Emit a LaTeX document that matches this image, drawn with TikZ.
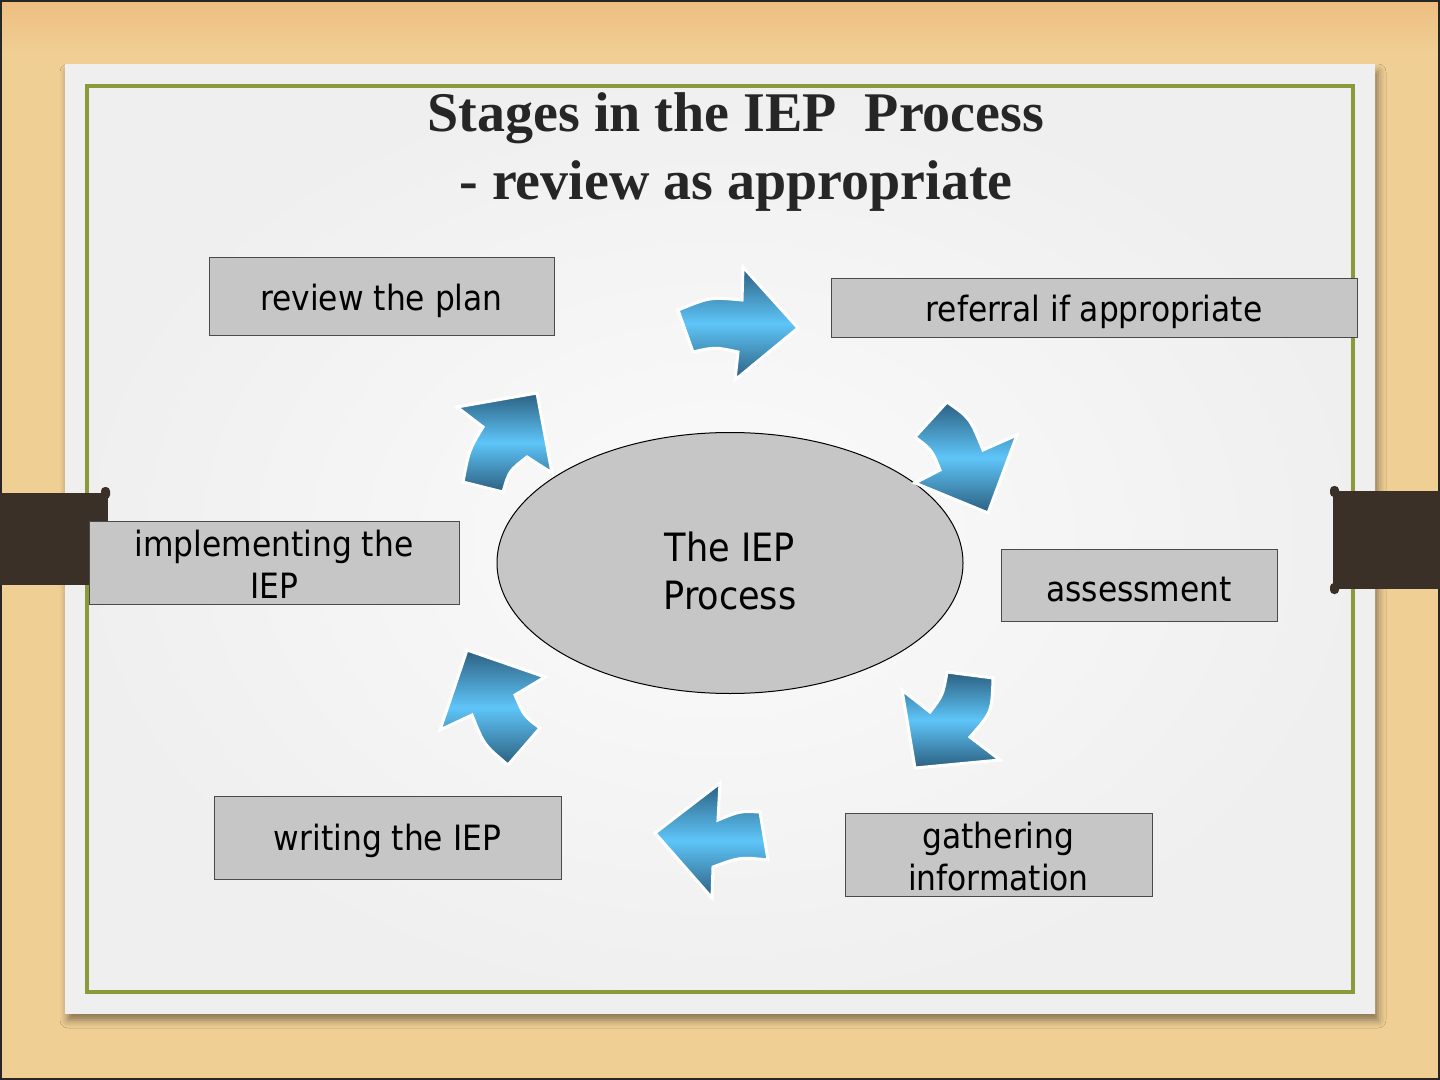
\documentclass[tikz,border=0pt]{standalone}
\usepackage{fontspec}
\setmainfont{Liberation Serif}
\newfontfamily\stagefont{DejaVu Sans Condensed}
\usetikzlibrary{shapes.geometric,shadows.blur}

\definecolor{wood}{HTML}{F0CF95}
\definecolor{woodtop}{HTML}{EEBD80}
\definecolor{strap}{HTML}{3B3028}
\definecolor{frameline}{HTML}{8A9A3B}
\definecolor{boxfill}{HTML}{C6C6C6}
\definecolor{boxline}{HTML}{4A4A4A}
\definecolor{arrdark}{HTML}{2C5F80}
\definecolor{arrlight}{HTML}{5EC5F8}
\definecolor{titleink}{HTML}{262626}
\definecolor{paper}{HTML}{EFEFEF}
\definecolor{papermid}{HTML}{FBFBFB}

\tikzset{
  stage/.style={draw=boxline, line width=0.5pt, fill=boxfill,
    font=\stagefont\fontsize{17.4}{21}\selectfont, text=black,
    align=center, inner sep=0pt},
  hub/.style={ellipse, draw=black, line width=0.5pt, fill=boxfill,
    font=\stagefont\fontsize{19.5}{24}\selectfont, text=black,
    align=center, inner sep=0pt},
  titleline/.style={font=\bfseries\fontsize{28}{34}\selectfont,
    text=titleink, anchor=base},
  cyclearrow/.style={top color=arrdark, bottom color=arrdark,
    middle color=arrlight, draw=white, line width=1.5pt, line join=miter},
}

\begin{document}
\begin{tikzpicture}[x=0.5pt,y=-0.5pt]
\useasboundingbox (0,0) rectangle (1440,1080);

% wooden backdrop
\fill[wood] (0,0) rectangle (1440,1080);
\shade[top color=woodtop, bottom color=wood] (0,0) rectangle (1440,55);
\draw[black!85, line width=1pt] (1,1) rectangle (1439,1079);

% paper sheet with its shadow
\path[fill=paper, blur shadow={shadow xshift=1.5pt, shadow yshift=-3.5pt,
      shadow blur radius=4pt, shadow opacity=45}]
  (65,65) rectangle (1375,1013);
\shade[inner color=papermid, outer color=paper] (65,65) rectangle (1375,1013);
\draw[frameline, line width=1.6pt] (87,86) rectangle (1353,992);

% straps holding the sheet
\fill[strap] (0,493) rectangle (108,585);
\fill[strap, rounded corners=2pt] (101,487) rectangle (110,499);
\fill[strap] (1333,491) rectangle (1440,589);
\fill[strap, rounded corners=2pt] (1330,486) rectangle (1339,497);
\fill[strap, rounded corners=2pt] (1330,583) rectangle (1339,594);

% title
\node[titleline] (title1) at (736,132) {Stages in the IEP\ \ Process};
\node[titleline] (title2) at (736,200) {- review as appropriate};

% centre
\node[hub, minimum width=233pt, minimum height=130.5pt] (hub) at (730,563)
  {\rule{0pt}{22.8pt}The IEP\\Process};

% stages
\node[stage, minimum width=172.5pt, minimum height=39pt] (review) at (381.5,297)
  {\rule{0pt}{17pt}review the plan};
\node[stage, minimum width=263pt, minimum height=29.5pt] (referral) at (1094,308.5)
  {\rule{0pt}{17pt}referral if appropriate};
\node[stage, minimum width=138pt, minimum height=36pt] (assess) at (1139,585)
  {\rule{0pt}{17pt}assessment};
\node[stage, minimum width=153.5pt, minimum height=41.5pt] (gather) at (998.5,854.5)
  {\rule{0pt}{15pt}gathering\\information};
\node[stage, minimum width=173.5pt, minimum height=41.5pt] (write) at (387.5,837.5)
  {\rule{0pt}{17pt}writing the IEP};
\node[stage, minimum width=185pt, minimum height=41.5pt] (implement) at (274,562.5)
  {\rule{0pt}{15pt}implementing the\\IEP};

% curved block arrows around the hub
\path[cyclearrow] (678,310) .. controls (710,297) .. (742,300) -- (743,267)
  -- (798,328) -- (735,380) -- (738,352) .. controls (715,347) .. (693,352) -- cycle;
\path[cyclearrow] (947,402) .. controls (970,418) .. (983,450) -- (1017,435)
  -- (988,513) -- (915,483) -- (940,470) .. controls (932,450) .. (915,437) -- cycle;
\path[cyclearrow] (947,672) -- (993,678) .. controls (992,712) .. (970,737)
  -- (1000,760) -- (915,768) -- (902,690) -- (930,712) .. controls (943,695) .. cycle;
\path[cyclearrow] (655,833) -- (720,783) -- (718,820) .. controls (740,811) .. (760,812)
  -- (768,860) .. controls (740,857) .. (713,867) -- (712,898) -- cycle;
\path[cyclearrow] (467,650) -- (545,677) -- (515,695) .. controls (524,716) .. (540,728)
  -- (508,765) .. controls (484,745) .. (472,715) -- (440,730) -- cycle;
\path[cyclearrow] (537,393) -- (552,473) -- (527,457) .. controls (509,471) .. (503,492)
  -- (463,482) .. controls (469,450) .. (483,427) -- (457,407) -- cycle;
\end{tikzpicture}
\end{document}
